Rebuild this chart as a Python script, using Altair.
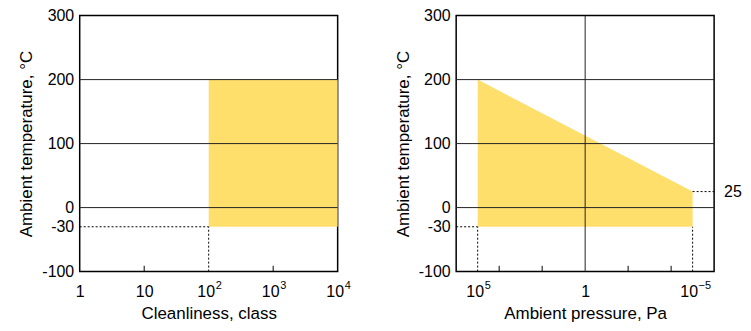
import altair as alt
import pandas as pd

# ---------------- data ----------------
temp_ticks = [300, 200, 100, 0, -30, -100]
grid_temps = [200, 100, 0]
t_min, t_max = -100, 300
t_low = -30
tick_len = 9  # inner tick length in degC units

clean_domain = [1, 10000]
clean_ticks = [1, 10, 100, 1000, 10000]
clean_bases = ["1", "10", "10", "10", "10"]
clean_exps = ["", "", "2", "3", "4"]
clean_minor = [10, 1000]
clean_region_x = [100, 10000]
clean_region_top = [200, 200]

press_domain = [1e-6, 1e6]
press_ticks = [1e5, 1, 1e-5]
press_bases = ["10", "1", "10"]
press_exps = ["5", "", "−5"]
press_minor = [1e4, 1e2, 1e-2, 1e-4]
press_grid = [1]
press_region_x = [1e5, 1e-5]
press_region_top = [200, 25]
press_note = 25

YELLOW = "#FFDF6C"
FONT = "Liberation Sans"
W, H = 259, 257
LABEL_SIZE = 16
TITLE_SIZE = 17
EXP_SIZE = 11
BASE_HALF = 9  # half width of "10" at 16px


def match(v):
    return f"abs(datum.value - {v!r}) < {abs(v) * 1e-6!r}"


def label_expr(vals, labels):
    expr = "''"
    for v, l in reversed(list(zip(vals, labels))):
        expr = f"({match(v)}) ? '{l}' : {expr}"
    return expr


def shift_for(e):
    return -4 if len(e) > 1 else -3


def offset_cond(vals, exps):
    conds = [{"test": match(v), "value": shift_for(e)} for v, e in zip(vals, exps) if e]
    return {"condition": conds, "value": 0}


yscale = alt.Scale(domain=[t_min, t_max], nice=False, zero=False)
yaxis = alt.Axis(values=temp_ticks, title="Ambient temperature, °C", grid=False,
                 domain=False, ticks=False, labelPadding=6, labelOverlap=False,
                 labelExpr="'' + datum.value", titlePadding=6)


def Y(field="y"):
    return alt.Y(f"{field}:Q", scale=yscale, axis=yaxis)


def make_x(domain, ticks, bases, exps, title, reverse):
    scale = alt.Scale(type="log", domain=domain, nice=False, reverse=reverse)
    axis = alt.Axis(values=ticks, labelExpr=label_expr(ticks, bases), title=title,
                    grid=False, domain=False, ticks=False, labelPadding=12,
                    labelOffset=offset_cond(ticks, exps),
                    labelFlush=False, labelOverlap=False, titlePadding=6)

    def X(field="x"):
        return alt.X(f"{field}:Q", scale=scale, axis=axis)
    return X


def exponent_layers(X, ticks, exps):
    layers = []
    for t, e in zip(ticks, exps):
        if not e:
            continue
        layers.append(alt.Chart(pd.DataFrame({"x": [t], "e": [e]})).mark_text(
            align="left", baseline="top", fontSize=EXP_SIZE, font=FONT, color="black",
            dx=shift_for(e) + BASE_HALF + 1).encode(x=X(), y=alt.value(H + 9), text="e:N"))
    return layers


# ---------------- left panel ----------------
XL = make_x(clean_domain, clean_ticks, clean_bases, clean_exps, "Cleanliness, class", False)

left_area = alt.Chart(pd.DataFrame({
    "x": clean_region_x, "y": clean_region_top, "y2": [t_low] * len(clean_region_x)
})).mark_area(color=YELLOW, opacity=1).encode(x=XL(), y=Y(), y2="y2:Q")

left_grid = alt.Chart(pd.DataFrame({"y": grid_temps})).mark_rule(
    color="#222", strokeWidth=1).encode(y=Y())

left_dot_h = alt.Chart(pd.DataFrame({"x": [clean_domain[0]], "x2": [clean_region_x[0]], "y": [t_low]})).mark_rule(
    color="black", strokeDash=[2, 2], strokeWidth=1).encode(x=XL(), x2="x2:Q", y=Y())
left_dot_v = alt.Chart(pd.DataFrame({"x": [clean_region_x[0]], "y": [t_min], "y2": [t_low]})).mark_rule(
    color="black", strokeDash=[2, 2], strokeWidth=1).encode(x=XL(), y=Y(), y2="y2:Q")

left_ticks = alt.Chart(pd.DataFrame({"x": clean_minor, "y": [t_min] * len(clean_minor),
                                     "y2": [t_min + tick_len] * len(clean_minor)})).mark_rule(
    color="black", strokeWidth=1).encode(x=XL(), y=Y(), y2="y2:Q")

left = alt.layer(left_area, left_grid, left_dot_h, left_dot_v, left_ticks,
                 *exponent_layers(XL, clean_ticks, clean_exps)).properties(width=W, height=H)

# ---------------- right panel ----------------
XR = make_x(press_domain, press_ticks, press_bases, press_exps, "Ambient pressure, Pa", True)

right_area = alt.Chart(pd.DataFrame({
    "x": press_region_x, "y": press_region_top, "y2": [t_low] * len(press_region_x)
})).mark_area(color=YELLOW, opacity=1).encode(x=XR(), y=Y(), y2="y2:Q")

right_grid = alt.Chart(pd.DataFrame({"y": grid_temps})).mark_rule(
    color="#222", strokeWidth=1).encode(y=Y())
right_vgrid = alt.Chart(pd.DataFrame({"x": press_grid})).mark_rule(
    color="#222", strokeWidth=1).encode(x=XR())

dots_h = pd.DataFrame({"x": [press_domain[1], press_region_x[1]],
                       "x2": [press_region_x[0], press_domain[0]],
                       "y": [t_low, press_note]})
right_dot_h = alt.Chart(dots_h).mark_rule(color="black", strokeDash=[2, 2], strokeWidth=1).encode(
    x=XR(), x2="x2:Q", y=Y())
dots_v = pd.DataFrame({"x": press_region_x, "y": [t_min] * 2, "y2": [t_low] * 2})
right_dot_v = alt.Chart(dots_v).mark_rule(color="black", strokeDash=[2, 2], strokeWidth=1).encode(
    x=XR(), y=Y(), y2="y2:Q")

right_ticks = alt.Chart(pd.DataFrame({"x": press_minor, "y": [t_min] * len(press_minor),
                                      "y2": [t_min + tick_len] * len(press_minor)})).mark_rule(
    color="black", strokeWidth=1).encode(x=XR(), y=Y(), y2="y2:Q")

note = alt.Chart(pd.DataFrame({"y": [press_note], "t": [str(press_note)]})).mark_text(
    align="left", baseline="middle", dx=10, fontSize=LABEL_SIZE, font=FONT, color="black").encode(
    x=alt.value(W), y=Y(), text="t:N")

right = alt.layer(right_area, right_grid, right_vgrid, right_dot_h, right_dot_v, right_ticks, note,
                  *exponent_layers(XR, press_ticks, press_exps)).properties(width=W, height=H)

chart = alt.hconcat(left, right, spacing=119, bounds="flush").properties(
    padding={"left": 9, "top": -2, "right": 0, "bottom": 0},
    background="white"
).configure_view(
    stroke="black", strokeWidth=1.5
).configure_axis(
    labelFont=FONT, titleFont=FONT, labelFontSize=LABEL_SIZE, titleFontSize=TITLE_SIZE,
    labelColor="black", titleColor="black", titleFontWeight="normal"
)

chart.save("out.html", embed_options={"renderer": "svg", "actions": False})
